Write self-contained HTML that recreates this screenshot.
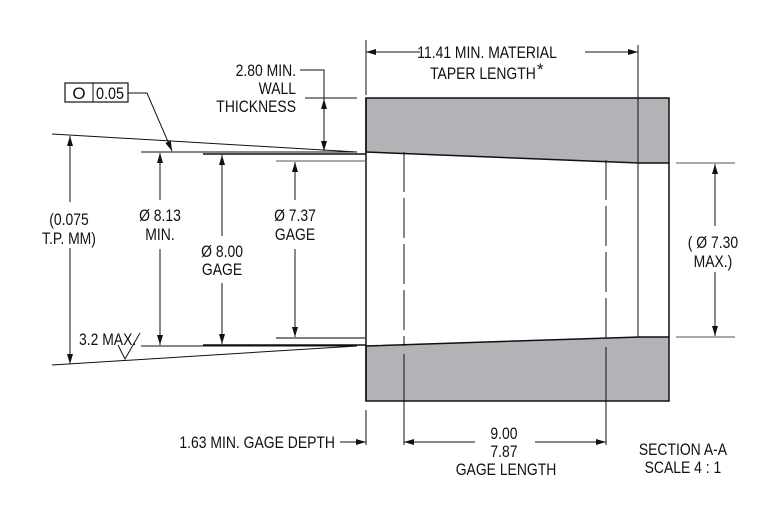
<!DOCTYPE html>
<html><head><meta charset="utf-8"><style>
html,body{margin:0;padding:0;background:#fff}
svg text{font-family:"Liberation Sans",sans-serif;font-size:17px;fill:#111}
</style></head><body>
<svg width="780" height="520" viewBox="0 0 780 520" xmlns="http://www.w3.org/2000/svg">
<defs>
<marker id="a" viewBox="0 0 10 6" refX="10" refY="3" markerWidth="10" markerHeight="6" orient="auto-start-reverse" markerUnits="userSpaceOnUse"><path d="M0,0L10,3L0,6z" fill="#111"/></marker>
</defs>
<g stroke="#111" fill="none" stroke-width="1">
<path d="M366,98H669V163H638L366,152Z" fill="#b2b3b6" stroke-width="1.5"/>
<path d="M366,401H669V337H638L366,346Z" fill="#b2b3b6" stroke-width="1.5"/>
<line x1="366" y1="98" x2="366" y2="401" stroke-width="1.5"/>
<line x1="669" y1="163" x2="669" y2="337" stroke-width="1.5"/>
<line x1="638" y1="45" x2="638" y2="337"/>
<line x1="404" y1="152" x2="404" y2="346" stroke-dasharray="40,6"/>
<line x1="606" y1="160" x2="606" y2="338" stroke-dasharray="40,6"/>
<line x1="404" y1="354" x2="404" y2="445"/>
<line x1="606" y1="347" x2="606" y2="445"/>
<line x1="366" y1="40" x2="366" y2="95"/>
<line x1="366" y1="410" x2="366" y2="445"/>
<line x1="366" y1="52" x2="420" y2="52" marker-start="url(#a)"/>
<line x1="585" y1="52" x2="638" y2="52" marker-end="url(#a)"/>
<line x1="52" y1="134" x2="357" y2="152"/>
<line x1="52" y1="365" x2="357" y2="346"/>
<line x1="141" y1="152" x2="357" y2="152"/>
<line x1="203" y1="154" x2="366" y2="154" stroke-width="1.5"/>
<line x1="276" y1="161" x2="366" y2="161" stroke="#555"/>
<line x1="276" y1="338" x2="366" y2="338" stroke="#555" stroke-width="1.5"/>
<line x1="141" y1="346" x2="357" y2="346"/>
<line x1="203" y1="345" x2="366" y2="345" stroke-width="1.5"/>
<line x1="70" y1="136" x2="70" y2="202" marker-start="url(#a)"/>
<line x1="70" y1="248" x2="70" y2="364" marker-end="url(#a)"/>
<line x1="160" y1="153" x2="160" y2="200" marker-start="url(#a)"/>
<line x1="160" y1="249" x2="160" y2="345" marker-end="url(#a)"/>
<line x1="222" y1="155" x2="222" y2="236" marker-start="url(#a)"/>
<line x1="222" y1="283" x2="222" y2="344" marker-end="url(#a)"/>
<line x1="295" y1="162" x2="295" y2="200" marker-start="url(#a)"/>
<line x1="295" y1="249" x2="295" y2="337" marker-end="url(#a)"/>
<polyline points="300,70 324,70 324,151" marker-end="url(#a)"/>
<line x1="324" y1="120" x2="324" y2="99" marker-end="url(#a)"/>
<line x1="305" y1="98" x2="357" y2="98"/>
<rect x="65" y="83" width="63" height="19" stroke-width="1.2"/>
<line x1="93" y1="83" x2="93" y2="102"/>
<polyline points="128,93 147,93 172,151" marker-end="url(#a)"/>
<polyline points="118,345 125,359 140,333"/>
<line x1="676" y1="163" x2="735" y2="163" stroke="#555"/>
<line x1="676" y1="337" x2="735" y2="337" stroke="#555"/>
<line x1="715" y1="164" x2="715" y2="226" marker-start="url(#a)"/>
<line x1="715" y1="272" x2="715" y2="336" marker-end="url(#a)"/>
<line x1="340" y1="442" x2="366" y2="442" marker-end="url(#a)"/>
<line x1="404" y1="442" x2="475" y2="442" marker-start="url(#a)"/>
<line x1="535" y1="442" x2="606" y2="442" marker-end="url(#a)"/>
</g>
<g>
<text transform="matrix(.82,0,0,1,87.7,0)" x="487" y="58" text-anchor="middle">11.41 MIN. MATERIAL</text>
<text transform="matrix(.82,0,0,1,86.9,0)" x="483" y="79" text-anchor="middle">TAPER LENGTH</text><text x="537" y="75" font-size="13">*</text>
<text transform="matrix(.82,0,0,1,53.3,0)" x="296" y="76" text-anchor="end">2.80 MIN.</text>
<text transform="matrix(.82,0,0,1,53.3,0)" x="296" y="94" text-anchor="end">WALL</text>
<text transform="matrix(.82,0,0,1,53.3,0)" x="296" y="112" text-anchor="end">THICKNESS</text>
<text x="79" y="99" text-anchor="middle" font-size="17">O</text>
<text transform="matrix(.85,0,0,1,16.5,0)" x="110" y="99" text-anchor="middle" font-size="16">0.05</text>
<text transform="matrix(.82,0,0,1,12.4,0)" x="69" y="225" text-anchor="middle">(0.075</text>
<text transform="matrix(.82,0,0,1,12.4,0)" x="69" y="244" text-anchor="middle">T.P. MM)</text>
<text transform="matrix(.82,0,0,1,28.8,0)" x="160" y="221" text-anchor="middle">Ø 8.13</text>
<text transform="matrix(.82,0,0,1,28.8,0)" x="160" y="240" text-anchor="middle">MIN.</text>
<text transform="matrix(.82,0,0,1,40,0)" x="222" y="257" text-anchor="middle">Ø 8.00</text>
<text transform="matrix(.82,0,0,1,40,0)" x="222" y="275" text-anchor="middle">GAGE</text>
<text transform="matrix(.82,0,0,1,53.1,0)" x="295" y="221" text-anchor="middle">Ø 7.37</text>
<text transform="matrix(.82,0,0,1,53.1,0)" x="295" y="240" text-anchor="middle">GAGE</text>
<text transform="matrix(.82,0,0,1,14.2,0)" x="79" y="345" font-size="15">3.2 MAX.</text>
<text transform="matrix(.82,0,0,1,128.3,0)" x="713" y="248" text-anchor="middle">( Ø 7.30</text>
<text transform="matrix(.82,0,0,1,128.3,0)" x="713" y="267" text-anchor="middle">MAX.)</text>
<text transform="matrix(.82,0,0,1,60.3,0)" x="335" y="448" text-anchor="end">1.63 MIN. GAGE DEPTH</text>
<text transform="matrix(.82,0,0,1,90.7,0)" x="504" y="439" text-anchor="middle">9.00</text>
<text transform="matrix(.82,0,0,1,90.7,0)" x="504" y="457" text-anchor="middle">7.87</text>
<text transform="matrix(.82,0,0,1,91.1,0)" x="506" y="475" text-anchor="middle">GAGE LENGTH</text>
<text transform="matrix(.82,0,0,1,122.9,0)" x="683" y="455" text-anchor="middle">SECTION  A-A</text>
<text transform="matrix(.82,0,0,1,122.9,0)" x="683" y="473" text-anchor="middle">SCALE 4 : 1</text>
</g>
</svg>
</body></html>
